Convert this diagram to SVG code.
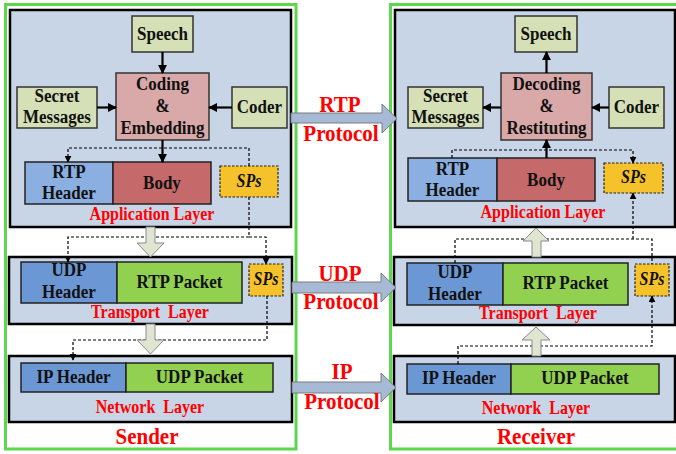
<svg xmlns="http://www.w3.org/2000/svg" width="676" height="454" viewBox="0 0 676 454">
<style>
text{font-family:"Liberation Serif","Times New Roman",serif;font-weight:bold;text-anchor:middle;transform-box:fill-box;transform-origin:50% 60%;transform:scaleY(1.13)}
.n{font-size:17px;fill:#111}
.sp{font-size:16px;font-style:italic;fill:#111}
.red{fill:#ff0000}
.lay{font-size:16px}
.big{font-size:21px}
.green{fill:none;stroke:#5ed64e;stroke-width:3}
.layer{fill:#c8d5e6;stroke:#000;stroke-width:2.5}
.lg{fill:#d5e0b6;stroke:#333;stroke-width:1.5}
.pink{fill:#d9a8a9;stroke:#333;stroke-width:1.5}
.hb{fill:#8aafe0;stroke:#222;stroke-width:1.5}
.hd{fill:#6c97d5;stroke:#222;stroke-width:1.5}
.body{fill:#c5696a;stroke:#222;stroke-width:1.5}
.pkt{fill:#92d050;stroke:#222;stroke-width:1.5}
.sps{fill:#f5c22c;stroke:#222;stroke-width:1.2;stroke-dasharray:2.5,1.5}
.sol{fill:none;stroke:#000;stroke-width:2.2;marker-end:url(#ah)}
.dash{fill:none;stroke:#000;stroke-width:1.2;stroke-dasharray:3,2}
.da{marker-end:url(#dh)}
.blk{fill:#dfe5d0;stroke:#8a8a8a;stroke-width:1}
.proto{fill:#a6bad6;stroke:#7a7a7a;stroke-width:1}
</style>
<defs>
<marker id="ah" viewBox="0 0 10 10" refX="9" refY="5" markerWidth="9" markerHeight="10" markerUnits="userSpaceOnUse" orient="auto"><path d="M0,0 L10,5 L0,10 z" fill="#000"/></marker>
<marker id="dh" viewBox="0 0 10 10" refX="9" refY="5" markerWidth="7" markerHeight="7" markerUnits="userSpaceOnUse" orient="auto"><path d="M0,0 L10,5 L0,10 z" fill="#000"/></marker>
</defs>
<rect width="676" height="454" fill="#fff"/>
<g id="sender">
<rect class="green" x="5.5" y="4.5" width="290.5" height="444.5"/>
<text class="big red" x="147" y="443">Sender</text>
</g>
<g id="receiver">
<rect class="green" x="390.5" y="4.5" width="300" height="444.5"/>
<text class="big red" x="536" y="443">Receiver</text>
</g>
<g id="s-app"><rect class="layer" x="10" y="10" width="281" height="217"/><text class="lay red" x="152" y="220">Application Layer</text></g>
<g id="s-trans"><rect class="layer" x="9" y="257" width="283" height="67"/><text class="lay red" x="150" y="318" style="word-spacing:4px">Transport Layer</text></g>
<g id="s-net"><rect class="layer" x="9" y="356" width="283" height="66"/><text class="lay red" x="150" y="413" style="word-spacing:4px">Network Layer</text></g>
<g id="r-app"><rect class="layer" x="395" y="10" width="280" height="217"/><text class="lay red" x="543" y="218">Application Layer</text></g>
<g id="r-trans"><rect class="layer" x="394" y="257" width="281" height="68"/><text class="lay red" x="538" y="319" style="word-spacing:4px">Transport Layer</text></g>
<g id="r-net"><rect class="layer" x="394" y="356" width="281" height="66"/><text class="lay red" x="536" y="414" style="word-spacing:4px">Network Layer</text></g>
<g id="s-speech"><rect class="lg" x="132" y="16" width="61" height="36"/><text class="n" x="162.5" y="40">Speech</text></g>
<g id="s-coding"><rect class="pink" x="116" y="73" width="93" height="67"/><text class="n" x="162.5" y="90">Coding</text><text class="n" x="162.5" y="112">&amp;</text><text class="n" x="162.5" y="134">Embedding</text></g>
<g id="s-secret"><rect class="lg" x="17" y="87" width="80" height="41"/><text class="n" x="57" y="102">Secret</text><text class="n" x="57" y="123">Messages</text></g>
<g id="s-coder"><rect class="lg" x="232" y="87" width="55" height="41"/><text class="n" x="259.5" y="113">Coder</text></g>
<g id="s-rtph"><rect class="hb" x="25" y="162" width="88" height="42"/><text class="n" x="69" y="178">RTP</text><text class="n" x="69" y="199">Header</text></g>
<g id="s-body"><rect class="body" x="113" y="162" width="98" height="42"/><text class="n" x="162" y="189">Body</text></g>
<g id="s-sps1"><rect class="sps" x="220" y="166" width="58" height="31"/><text class="sp" x="249" y="187">SPs</text></g>
<g id="s-udph"><rect class="hd" x="21" y="262" width="96" height="41"/><text class="n" x="69" y="276">UDP</text><text class="n" x="69" y="298">Header</text></g>
<g id="s-rtpp"><rect class="pkt" x="117" y="262" width="125" height="41"/><text class="n" x="179.5" y="288">RTP Packet</text></g>
<g id="s-sps2"><rect class="sps" x="249" y="264" width="34" height="32"/><text class="sp" x="266" y="285">SPs</text></g>
<g id="s-iph"><rect class="hd" x="21" y="363" width="105" height="29"/><text class="n" x="73.5" y="383">IP Header</text></g>
<g id="s-udpp"><rect class="pkt" x="126" y="363" width="147" height="29"/><text class="n" x="199.5" y="383">UDP Packet</text></g>
<g id="r-speech"><rect class="lg" x="515" y="16" width="62" height="36"/><text class="n" x="546" y="40">Speech</text></g>
<g id="r-decoding"><rect class="pink" x="501" y="73" width="91" height="67"/><text class="n" x="546.5" y="90">Decoding</text><text class="n" x="546.5" y="112">&amp;</text><text class="n" x="546.5" y="134">Restituting</text></g>
<g id="r-secret"><rect class="lg" x="408" y="87" width="75" height="41"/><text class="n" x="445.5" y="102">Secret</text><text class="n" x="445.5" y="123">Messages</text></g>
<g id="r-coder"><rect class="lg" x="609" y="87" width="55" height="41"/><text class="n" x="636.5" y="113">Coder</text></g>
<g id="r-rtph"><rect class="hb" x="408" y="158" width="89" height="43"/><text class="n" x="452.5" y="175">RTP</text><text class="n" x="452.5" y="196">Header</text></g>
<g id="r-body"><rect class="body" x="497" y="158" width="98" height="43"/><text class="n" x="546" y="186">Body</text></g>
<g id="r-sps1"><rect class="sps" x="604" y="163" width="59" height="30"/><text class="sp" x="633.5" y="183">SPs</text></g>
<g id="r-udph"><rect class="hd" x="407" y="263" width="96" height="42"/><text class="n" x="455" y="278">UDP</text><text class="n" x="455" y="300">Header</text></g>
<g id="r-rtpp"><rect class="pkt" x="503" y="263" width="125" height="42"/><text class="n" x="565.5" y="289">RTP Packet</text></g>
<g id="r-sps2"><rect class="sps" x="635" y="264" width="34" height="32"/><text class="sp" x="652" y="285">SPs</text></g>
<g id="r-iph"><rect class="hd" x="407" y="364" width="104" height="30"/><text class="n" x="459" y="384">IP Header</text></g>
<g id="r-udpp"><rect class="pkt" x="511" y="364" width="148" height="30"/><text class="n" x="585" y="384">UDP Packet</text></g>
<g id="connectors">
<path class="sol" d="M162.5,52 V73"/>
<path class="sol" d="M97,107.5 H116"/>
<path class="sol" d="M232,107.5 H209"/>
<path class="sol" d="M162.5,140 V162"/>
<path class="sol" d="M546.5,73 V52"/>
<path class="sol" d="M501,107.5 H483"/>
<path class="sol" d="M609,107.5 H592"/>
<path class="sol" d="M546.5,158 V140"/>
<path class="dash da" d="M249,166 V148 H68 V162"/>
<path class="dash da" d="M249,197 V237 H68 V262"/>
<path class="dash da" d="M249,237 H266 V264"/>
<path class="dash da" d="M267,296 V340 H73 V360"/>
<path class="dash da" d="M452,158 V150 H633 V163"/>
<path class="dash" d="M455,263 V239 H652 V264"/>
<path class="dash da" d="M633,239 V193"/>
<path class="dash da" d="M458,364 V346 H652 V296"/>
<polygon class="blk" points="146,227 155,227 155,243 164,243 150.5,257 137,243 146,243"/>
<polygon class="blk" points="146,324 155,324 155,340 164,340 150.5,354 137,340 146,340"/>
<polygon class="blk" points="532,257 541,257 541,241 549,241 536,228 523,241 532,241"/>
<polygon class="blk" points="532,356 541,356 541,340 550,340 536,327 522,340 532,340"/>
<polygon class="proto" points="291,113 382,113 382,104 397,118.5 382,133 382,123 291,123"/>
<polygon class="proto" points="292,282 381,282 381,273 396,287.5 381,302 381,293 292,293"/>
<polygon class="proto" points="292,382 381,382 381,373 396,387.5 381,402 381,393 292,393"/>
<text class="big red" x="340" y="111">RTP</text>
<text class="big red" x="341" y="140">Protocol</text>
<text class="big red" x="340" y="280">UDP</text>
<text class="big red" x="341" y="308">Protocol</text>
<text class="big red" x="342" y="378">IP</text>
<text class="big red" x="342" y="408">Protocol</text>
</g>
</svg>
